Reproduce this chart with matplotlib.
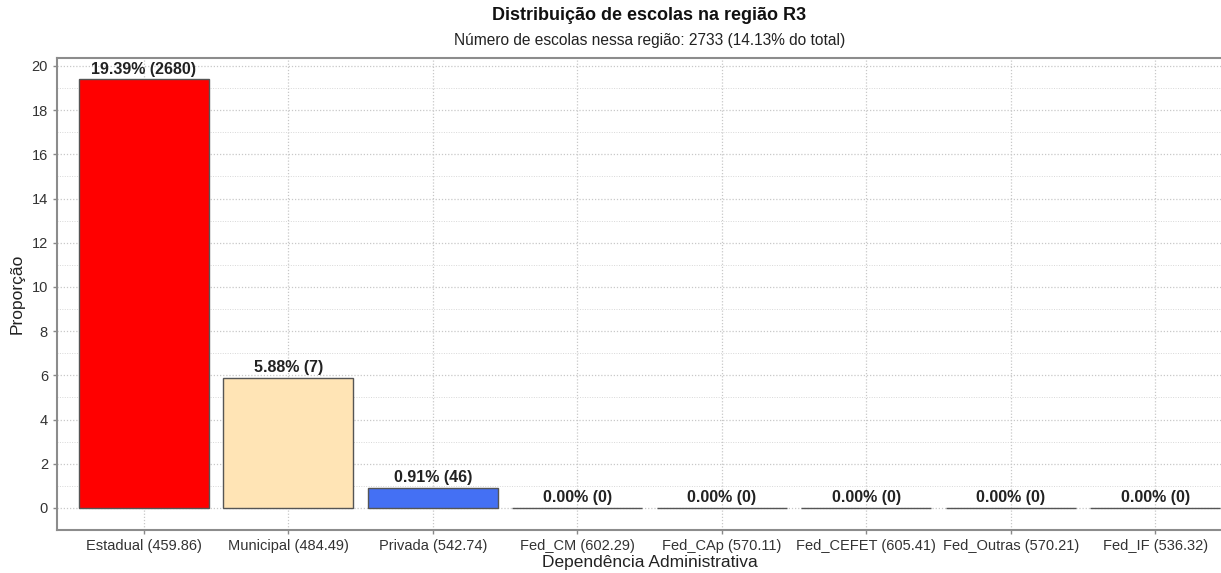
import numpy as np
import matplotlib
matplotlib.use("Agg")
import matplotlib.pyplot as plt
from matplotlib.ticker import MultipleLocator

plt.rcParams['font.family'] = ['Liberation Sans', 'DejaVu Sans']

# data
categorias = ["Estadual (459.86)", "Municipal (484.49)", "Privada (542.74)",
              "Fed_CM (602.29)", "Fed_CAp (570.11)", "Fed_CEFET (605.41)",
              "Fed_Outras (570.21)", "Fed_IF (536.32)"]
proporcao = [19.39, 5.88, 0.91, 0.0, 0.0, 0.0, 0.0, 0.0]
contagem = [2680, 7, 46, 0, 0, 0, 0, 0]
cores = ["#FF0000", "#FFE4B5", "#4470F4", "#BBBBBB", "#BBBBBB", "#BBBBBB", "#BBBBBB", "#BBBBBB"]

titulo = "Distribuição de escolas na região R3"
subtitulo = "Número de escolas nessa região: 2733 (14.13% do total)"

fig = plt.figure(figsize=(12.21, 5.73), dpi=100)
# panel extends past the right edge, as in the original (clipped)
ax = fig.add_axes([57/1221, 1 - 530/573, (1242 - 57)/1221, (530 - 58)/573])

x = np.arange(len(categorias))
ax.bar(x, proporcao, width=0.9, color=cores, edgecolor="#555555", linewidth=1.0, zorder=3)

for xi, p, n in zip(x, proporcao, contagem):
    ax.text(xi, p + 0.12, f"{p:.2f}% ({n})", ha="center", va="bottom",
            fontsize=11.5, fontweight="bold", color="#222222", zorder=4)

ax.set_xlim(-0.6, len(categorias) - 0.4)
ax.set_ylim(-1.0, 20.36)
ax.set_xticks(x)
ax.set_xticklabels(categorias, fontsize=10.5, color="#333333")
ax.yaxis.set_major_locator(MultipleLocator(2))
ax.yaxis.set_minor_locator(MultipleLocator(1))
ax.tick_params(axis="y", labelsize=10.5, labelcolor="#333333")
ax.tick_params(axis="both", which="major", length=3, color="#888888", width=1)
ax.tick_params(axis="y", which="minor", length=0)

ax.grid(True, which="major", axis="both", linestyle=(0, (1, 1.5)), color="#C8C8C8", linewidth=0.9, zorder=0)
ax.grid(True, which="minor", axis="y", linestyle=(0, (1, 1.5)), color="#D8D8D8", linewidth=0.7, zorder=0)
ax.set_axisbelow(True)

for s in ax.spines.values():
    s.set_color("#8C8C8C")
    s.set_linewidth(1.5)

ax.set_xlabel("Dependência Administrativa", fontsize=12.5, color="#222222", labelpad=1.5)
ax.set_ylabel("Proporção", fontsize=12.5, color="#222222", labelpad=5)

cx = (57 + 1242) / 2 / 1221
fig.text(cx, 1 - 16/573, titulo, ha="center", va="center", fontsize=13, fontweight="bold", color="#111111")
fig.text(cx, 1 - 40/573, subtitulo, ha="center", va="center", fontsize=11.2, color="#222222")

fig.savefig("out.png", dpi=100)
